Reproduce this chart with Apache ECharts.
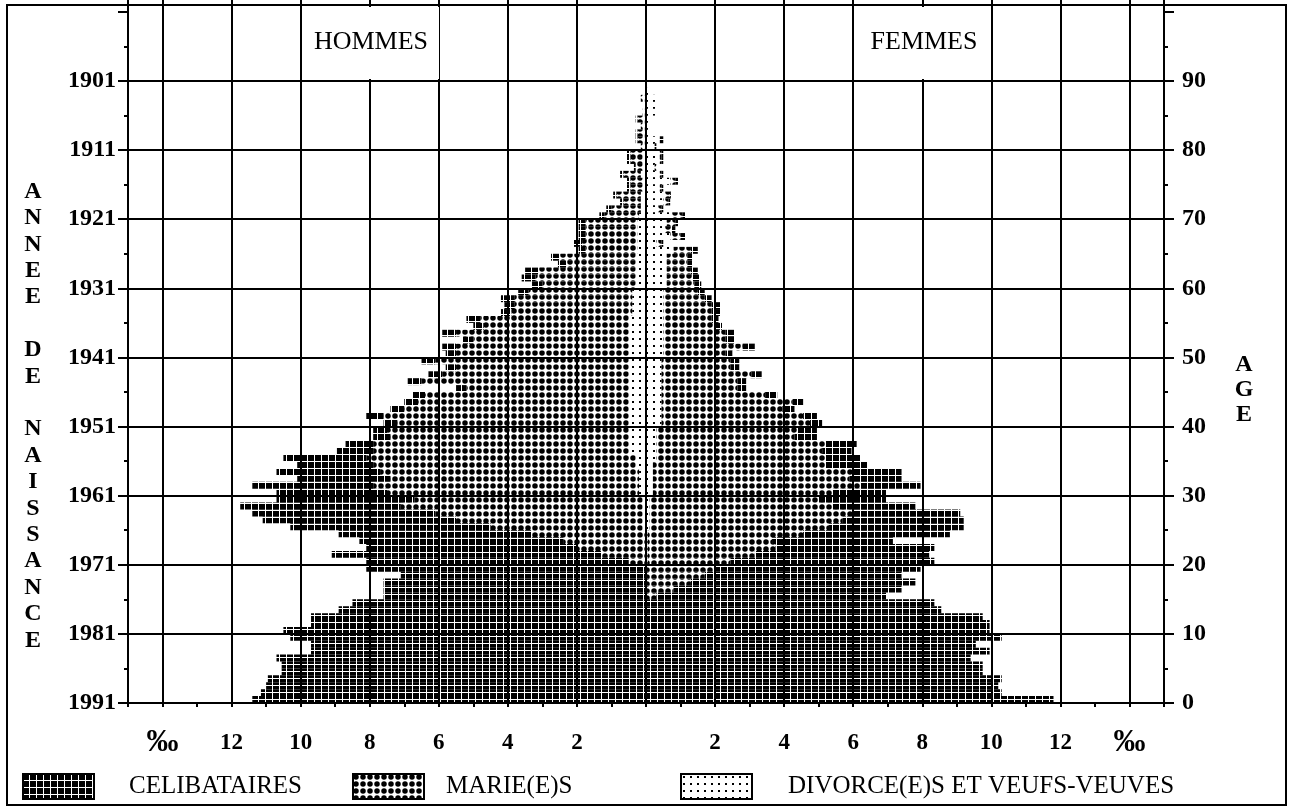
<!DOCTYPE html>
<html>
<head>
<meta charset="utf-8">
<script src="https://cdn.jsdelivr.net/npm/echarts@6.0.0/dist/echarts.min.js"></script>
<style>
  html, body { margin: 0; padding: 0; background: #fff; }
  #chart { width: 1292px; height: 808px; }
</style>
</head>
<body>
<div id="chart"></div>
<script>
// ages 0..89 (one bar per single year of age)
const AGES = Array.from({ length: 90 }, (_, i) => i);

// values in per mille
const hommesCelibataires = [
  11.4, 11.15, 11.0, 10.95, 10.55, 10.55, 10.7, 9.7, 9.7, 10.3,
  10.5, 9.7, 9.7, 8.9, 8.5, 7.6, 7.6, 7.6, 7.1, 8.1,
  7.6, 7.8, 6.1, 5.9, 5.6, 5.8, 5.6, 5.3, 4.65, 4.0,
  3.2, 3.5, 2.7, 3.0, 2.2, 2.4, 1.05, 0.8, 0.5, 0.4,
  0.4, 0.5, 0.4, 0.4, 0.35, 0.3, 0.4, 0.4, 0.3, 0.4,
  0.3, 0.4, 0.3, 0.4, 0.3, 0.4, 0.3, 0.3, 0.4, 0.3,
  0.3, 0.4, 0.4, 0.25, 0.25, 0.2, 0.25, 0.2, 0.2, 0.2,
  0.15, 0.15, 0.1, 0.1, 0.1, 0.1, 0.1, 0.05, 0.1, 0.1,
  0, 0.05, 0.05, 0, 0.05, 0, 0, 0, 0, 0
];
const hommesMaries = [
  0, 0, 0, 0, 0, 0, 0, 0, 0, 0,
  0, 0, 0, 0, 0, 0, 0, 0, 0, 0,
  0.5, 1.3, 2.0, 2.4, 3.3, 4.4, 5.4, 6.0, 7.0, 6.6,
  7.3, 7.7, 7.2, 7.5, 7.6, 7.8, 7.4, 7.4, 6.9, 7.0,
  6.7, 7.1, 6.5, 6.1, 5.9, 4.7, 6.0, 5.4, 5.0, 5.6,
  5.0, 5.0, 4.5, 5.0, 4.2, 4.3, 3.5, 3.4, 3.4, 3.0,
  2.7, 2.9, 2.8, 2.0, 2.2, 1.5, 1.6, 1.5, 1.5, 1.5,
  1.0, 0.85, 0.5, 0.7, 0.35, 0.35, 0.5, 0.2, 0.35, 0.35,
  0.1, 0.2, 0.2, 0.1, 0.2, 0.05, 0, 0.1, 0, 0
];
const hommesDivVeufs = [
  0, 0, 0, 0, 0, 0, 0, 0, 0, 0,
  0, 0, 0, 0, 0, 0, 0, 0, 0, 0,
  0, 0, 0, 0, 0, 0.1, 0.1, 0.1, 0.1, 0.1,
  0.2, 0.2, 0.2, 0.2, 0.3, 0.3, 0.5, 0.5, 0.5, 0.5,
  0.5, 0.5, 0.5, 0.5, 0.5, 0.5, 0.5, 0.5, 0.5, 0.5,
  0.5, 0.5, 0.5, 0.5, 0.5, 0.5, 0.4, 0.4, 0.4, 0.4,
  0.3, 0.3, 0.3, 0.3, 0.3, 0.25, 0.25, 0.25, 0.25, 0.25,
  0.2, 0.15, 0.15, 0.15, 0.1, 0.1, 0.15, 0.1, 0.1, 0.1,
  0.05, 0.05, 0.05, 0.05, 0.05, 0.05, 0.05, 0.05, 0.05, 0
];
const femmesCelibataires = [
  11.8, 10.3, 10.2, 10.3, 9.75, 9.75, 9.4, 9.95, 9.55, 10.3,
  9.95, 9.95, 9.75, 8.55, 8.35, 6.65, 6.6, 6.5, 5.7, 5.95,
  5.9, 5.05, 4.6, 3.5, 4.25, 3.9, 3.5, 3.1, 2.4, 1.95,
  1.55, 1.75, 1.5, 1.4, 1.2, 1.0, 0.85, 0.9, 0.65, 0.55,
  0.35, 0.4, 0.35, 0.3, 0.35, 0.25, 0.25, 0.3, 0.25, 0.25,
  0.2, 0.35, 0.25, 0.25, 0.2, 0.2, 0.25, 0.25, 0.2, 0.2,
  0.2, 0.2, 0.2, 0.15, 0.15, 0.2, 0.05, 0.15, 0.1, 0.1,
  0.1, 0.05, 0.05, 0.05, 0.05, 0.1, 0.05, 0, 0.05, 0.05,
  0.05, 0.1, 0, 0, 0, 0, 0, 0, 0, 0
];
const femmesMariees = [
  0, 0, 0, 0, 0, 0, 0, 0, 0, 0,
  0, 0, 0, 0, 0, 0.3, 0.8, 1.3, 1.7, 2.0,
  2.4, 3.1, 3.7, 3.6, 4.5, 5.2, 5.6, 5.9, 5.3, 4.9,
  5.2, 6.0, 5.7, 5.8, 5.0, 4.9, 4.8, 4.9, 4.0, 4.1,
  4.3, 4.1, 3.5, 3.8, 3.0, 2.2, 2.2, 2.6, 2.0, 2.0,
  1.8, 2.3, 1.8, 1.8, 1.5, 1.4, 1.4, 1.4, 1.2, 1.0,
  0.8, 0.75, 0.7, 0.6, 0.6, 0.5, 0.15, 0.3, 0.2, 0.25,
  0.3, 0.1, 0.15, 0.15, 0.05, 0.15, 0.05, 0.05, 0.05, 0.05,
  0, 0, 0, 0, 0, 0, 0, 0, 0, 0
];
const femmesDivVeuves = [
  0, 0, 0, 0, 0, 0, 0, 0, 0, 0,
  0, 0, 0, 0, 0, 0, 0, 0, 0, 0,
  0.05, 0.05, 0.05, 0.05, 0.05, 0.1, 0.1, 0.1, 0.1, 0.1,
  0.2, 0.2, 0.2, 0.2, 0.2, 0.3, 0.3, 0.3, 0.3, 0.3,
  0.45, 0.45, 0.45, 0.45, 0.45, 0.45, 0.45, 0.45, 0.45, 0.45,
  0.5, 0.5, 0.5, 0.5, 0.5, 0.5, 0.5, 0.5, 0.5, 0.5,
  0.6, 0.6, 0.6, 0.6, 0.6, 0.8, 0.3, 0.7, 0.55, 0.6,
  0.75, 0.35, 0.5, 0.55, 0.4, 0.7, 0.4, 0.25, 0.4, 0.4,
  0.25, 0.4, 0.15, 0.1, 0.15, 0.3, 0.3, 0.3, 0.1, 0
];

const LEGENDES = ['CELIBATAIRES', 'MARIE(E)S', 'DIVORCE(E)S ET VEUFS-VEUVES'];
const SERIF = '"Liberation Serif", "DejaVu Serif", serif';

// halftone motifs, one 7px cell per dot like the printed chart
function motif(draw) {
  const c = document.createElement('canvas');
  c.width = 7;
  c.height = 7;
  const ctx = c.getContext('2d');
  ctx.fillStyle = '#fff';
  ctx.fillRect(0, 0, 7, 7);
  ctx.fillStyle = '#000';
  draw(ctx);
  return { image: c, repeat: 'repeat' };
}
const motifCelib = motif(ctx => ctx.fillRect(0, 0, 6, 6));
const motifMarie = motif(ctx => {
  ctx.beginPath();
  ctx.arc(3, 3, 2.75, 0, Math.PI * 2);
  ctx.fill();
});
const motifVeuf = motif(ctx => ctx.fillRect(2, 2, 2, 2));

// stack from the centre outwards: divorces/veufs, maries, celibataires
function couches(sens, divVeuf, maries, celib) {
  const out = [[], [], []];
  AGES.forEach(a => {
    const b1 = divVeuf[a];
    const b2 = b1 + maries[a];
    const b3 = b2 + celib[a];
    if (divVeuf[a] > 0) out[0].push([a, 0, sens * b1]);
    if (maries[a] > 0) out[1].push([a, sens * b1, sens * b2]);
    if (celib[a] > 0) out[2].push([a, sens * b2, sens * b3]);
  });
  return out;
}

function serie(name, data, fill) {
  return {
    type: 'custom',
    name: name,
    data: data,
    z: 1,
    silent: true,
    itemStyle: { color: fill },
    encode: { x: [1, 2], y: 0 },
    renderItem: (params, api) => {
      const age = api.value(0);
      const p0 = api.coord([api.value(1), age]);
      const p1 = api.coord([api.value(2), age + 1]);
      return {
        type: 'rect',
        shape: {
          x: Math.min(p0[0], p1[0]),
          y: p1[1],
          width: Math.abs(p1[0] - p0[0]),
          height: p0[1] - p1[1]
        },
        style: { fill: fill }
      };
    }
  };
}

const hommes = couches(-1, hommesDivVeufs, hommesMaries, hommesCelibataires);
const femmes = couches(1, femmesDivVeuves, femmesMariees, femmesCelibataires);
const motifs = [motifVeuf, motifMarie, motifCelib];
const noms = [LEGENDES[2], LEGENDES[1], LEGENDES[0]];

const series = [];
[hommes, femmes].forEach(cote => {
  cote.forEach((data, k) => series.push(serie(noms[k], data, motifs[k])));
});

const labelStyle = {
  color: '#000',
  fontFamily: SERIF,
  fontWeight: 'bold',
  fontSize: 24
};

function legende(nom, left, gap) {
  return {
    data: [nom],
    left: left,
    top: 773,
    padding: 0,
    icon: 'rect',
    itemWidth: 71,
    itemHeight: 25,
    selectedMode: false,
    itemStyle: { borderColor: '#000', borderWidth: 2 },
    textStyle: {
      color: '#000',
      fontFamily: SERIF,
      fontSize: 25,
      padding: [0, 0, 0, gap]
    }
  };
}

const chart = echarts.init(document.getElementById('chart'), null, { renderer: 'canvas' });

chart.setOption({
  animation: false,
  backgroundColor: '#fff',
  textStyle: { fontFamily: SERIF },
  grid: {
    left: 128,
    right: 128,
    top: 5,
    bottom: 105,
    show: true,
    borderColor: '#000',
    borderWidth: 2
  },
  xAxis: [
    {
      type: 'value',
      min: -15,
      max: 15,
      interval: 1,
      z: 3,
      axisLine: { onZero: false, lineStyle: { color: '#000', width: 2 } },
      axisTick: { length: 4, lineStyle: { color: '#000', width: 2 } },
      splitLine: {
        show: true,
        lineStyle: { color: ['rgba(0,0,0,0)', '#000'], width: 2 }
      },
      axisLabel: Object.assign({}, labelStyle, {
        fontSize: 23,
        margin: 25,
        lineHeight: 30,
        formatter: v => {
          const a = Math.abs(v);
          if (a === 0 || a % 2 !== 0) return '';
          if (a === 14) return '{pm|‰}';
          return String(a);
        },
        rich: { pm: { fontFamily: SERIF, fontWeight: 'bold', fontSize: 32, lineHeight: 30, color: '#000' } }
      })
    },
    {
      type: 'value',
      min: -15,
      max: 15,
      splitNumber: 15,
      z: 3,
      axisLine: { show: false, onZero: false },
      axisTick: { length: 8, lineStyle: { color: '#000', width: 2 } },
      splitLine: { show: false },
      axisLabel: { show: false }
    }
  ],
  yAxis: [
    {
      type: 'value',
      min: 0,
      max: 101,
      interval: 10,
      position: 'left',
      z: 3,
      axisLine: { show: true, onZero: false, lineStyle: { color: '#000', width: 2 } },
      axisTick: { show: true, length: 10, lineStyle: { color: '#000', width: 2 } },
      minorTick: { show: true, splitNumber: 2, length: 4, lineStyle: { color: '#000', width: 2 } },
      splitLine: {
        show: true,
        lineStyle: {
          color: ['#000', '#000', '#000', '#000', '#000', '#000', '#000', '#000', '#000', '#000', 'rgba(0,0,0,0)'],
          width: 2
        }
      },
      axisLabel: Object.assign({}, labelStyle, {
        margin: 12,
        formatter: v => (v >= 100 ? '' : String(1991 - v))
      })
    },
    {
      type: 'value',
      min: 0,
      max: 101,
      interval: 10,
      position: 'right',
      z: 3,
      axisLine: { show: true, onZero: false, lineStyle: { color: '#000', width: 2 } },
      axisTick: { show: true, length: 10, lineStyle: { color: '#000', width: 2 } },
      minorTick: { show: true, splitNumber: 2, length: 4, lineStyle: { color: '#000', width: 2 } },
      splitLine: { show: false },
      axisLabel: Object.assign({}, labelStyle, {
        margin: 18,
        formatter: v => (v >= 100 ? '' : String(v))
      })
    }
  ],
  legend: [
    legende(LEGENDES[0], 22, 30),
    legende(LEGENDES[1], 352, 17),
    legende(LEGENDES[2], 680, 31)
  ],
  graphic: [
    {
      type: 'rect',
      z: 100,
      silent: true,
      shape: { x: 7, y: 5, width: 1279, height: 800 },
      style: { fill: 'none', stroke: '#000', lineWidth: 2 }
    },
    {
      type: 'rect',
      z: 100,
      silent: true,
      shape: { x: 306, y: 7, width: 133, height: 72 },
      style: { fill: '#fff' }
    },
    {
      type: 'rect',
      z: 100,
      silent: true,
      shape: { x: 860, y: 7, width: 131, height: 72 },
      style: { fill: '#fff' }
    },
    {
      type: 'text',
      z: 101,
      x: 371,
      y: 42,
      style: { text: 'HOMMES', font: '26px ' + SERIF, fill: '#000', align: 'center', verticalAlign: 'middle' }
    },
    {
      type: 'text',
      z: 101,
      x: 924,
      y: 42,
      style: { text: 'FEMMES', font: '26px ' + SERIF, fill: '#000', align: 'center', verticalAlign: 'middle' }
    },
    {
      type: 'text',
      z: 101,
      x: 33,
      y: 416,
      style: {
        text: 'A\nN\nN\nE\nE\n\nD\nE\n\nN\nA\nI\nS\nS\nA\nN\nC\nE',
        font: 'bold 24px ' + SERIF,
        lineHeight: 26.4,
        fill: '#000',
        align: 'center',
        verticalAlign: 'middle'
      }
    },
    {
      type: 'text',
      z: 101,
      x: 1244,
      y: 390,
      style: {
        text: 'A\nG\nE',
        font: 'bold 24px ' + SERIF,
        lineHeight: 25,
        fill: '#000',
        align: 'center',
        verticalAlign: 'middle'
      }
    }
  ],
  series: series
});
</script>
</body>
</html>
